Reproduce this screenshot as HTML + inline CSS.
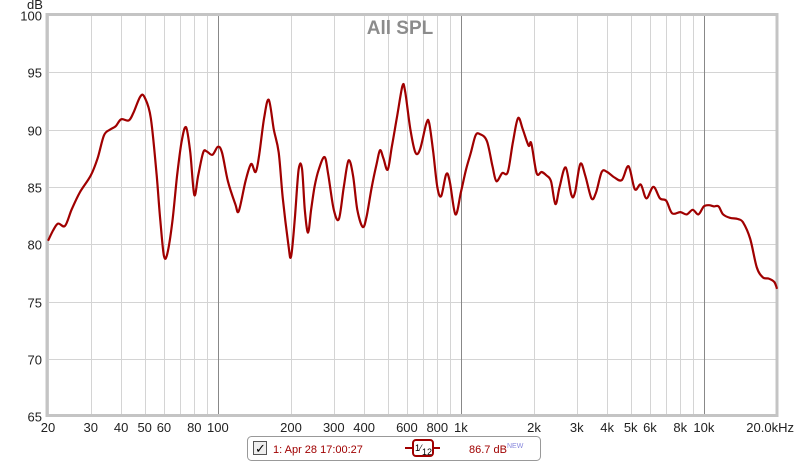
<!DOCTYPE html>
<html><head><meta charset="utf-8"><style>
body{margin:0;background:#fff;width:800px;height:464px;overflow:hidden;font-family:"Liberation Sans",sans-serif}
svg{display:block}
</style></head><body>
<svg id="chart" width="800" height="464">
<rect x="0" y="0" width="800" height="464" fill="#fff"/>
<g id="grid"></g>
<g id="labels"></g>
<rect x="47" y="14.5" width="730" height="401" fill="none" stroke="#c4c4c4" stroke-width="3"/>
<path id="curve" fill="none" stroke="#a00000" stroke-width="2.2"/>
<text x="400" y="34" text-anchor="middle" font-size="19" font-weight="bold" fill="#8c8c8c">All SPL</text>
<text x="27" y="9" font-size="13" fill="#222">dB</text>
<g>
<rect x="247.5" y="436.5" width="293" height="24" rx="4" fill="#fff" stroke="#999"/>
<rect x="253.5" y="441.5" width="13" height="13" fill="#eee" stroke="#555"/>
<text x="255" y="453" font-size="13" fill="#000">✓</text>
<text x="273" y="453" font-size="11" fill="#a00000">1: Apr 28 17:00:27</text>
<line x1="405" y1="448" x2="440" y2="448" stroke="#a00000" stroke-width="2"/>
<rect x="413" y="440" width="20" height="16" rx="3" fill="#fff" stroke="#a00000" stroke-width="2"/>
<text x="415" y="451" font-size="9" fill="#000">1⁄</text><text x="422" y="455" font-size="9" fill="#000">12</text>
<text x="469" y="453" font-size="11" fill="#a00000">86.7 dB</text>
<text x="507" y="448" font-size="7" fill="#8888dd">NEW</text>
</g>
</svg>
<script>
const freqs=[20,21,22,23.5,25,27,30,32,34,36,38,40,43,45,48,50,53,56,58,60,62,65,68,71,74,77,80,83,87,90,95,100,104,110,118,122,130,137,143,148,155,162,170,178,185,195,200,207,215,222,228,235,242,250,260,275,285,300,315,330,345,360,375,395,410,430,450,465,480,500,520,545,575,590,620,650,680,720,740,770,800,830,870,900,950,1000,1050,1100,1150,1200,1280,1350,1400,1480,1560,1640,1720,1800,1900,1950,2050,2150,2250,2350,2450,2550,2700,2850,2950,3100,3250,3450,3600,3800,4000,4300,4600,4900,5200,5500,5800,6200,6600,7000,7400,8000,8500,9000,9500,10000,10500,11000,11500,12000,12800,13800,14500,15500,16500,17500,18500,19500,20000];
const spl=[80.3,81.2,81.8,81.6,83,84.5,86,87.5,89.5,90,90.3,90.9,90.8,91.5,92.9,92.8,91,86,82,79,79.2,82,86,89,90.2,88,84.3,86,88,88.1,87.8,88.5,88,85.5,83.5,82.9,85.5,87,86.3,87.8,91,92.6,90,88,84,80,78.9,82,86.5,86.6,83,81,83,85,86.5,87.6,86,83,82.2,85,87.3,86,83,81.5,82.5,85,87,88.2,87.5,86.5,88.5,91,93.8,93.3,90,88,88.3,90.5,90.6,88,85,84.2,86.1,85.5,82.6,84.5,86.5,88,89.5,89.6,89,86.8,85.5,86.2,86.3,89,91,90,88.6,88.8,86.2,86.3,86,85.5,83.5,85,86.7,84.3,84.5,87,86,84,84.5,86.3,86.3,85.8,85.6,86.8,84.8,85.2,84,85,84,83.8,82.7,82.8,82.6,83,82.6,83.3,83.4,83.3,83.3,82.6,82.3,82.2,81.9,80.5,78,77.1,77,76.7,76.1];
const yTicks=[100,95,90,85,80,75,70,65];
const xTickLabels=[[20,"20"],[30,"30"],[40,"40"],[50,"50"],[60,"60"],[80,"80"],[100,"100"],[200,"200"],[300,"300"],[400,"400"],[600,"600"],[800,"800"],[1000,"1k"],[2000,"2k"],[3000,"3k"],[4000,"4k"],[5000,"5k"],[6000,"6k"],[8000,"8k"],[10000,"10k"],[20000,"20.0kHz"]];
const X=f=>48+(Math.log10(f)-Math.log10(20))*243;
const Y=d=>15+(100-d)*11.46;
const NS="http://www.w3.org/2000/svg";
const grid=document.getElementById('grid'),labels=document.getElementById('labels');
function ln(x1,y1,x2,y2,c){const l=document.createElementNS(NS,'line');l.setAttribute('x1',x1);l.setAttribute('y1',y1);l.setAttribute('x2',x2);l.setAttribute('y2',y2);l.setAttribute('stroke',c);l.setAttribute('stroke-width',1);grid.appendChild(l);return l;}
yTicks.forEach(v=>{const y=Math.round(Y(v))+0.5;const l=ln(48,y,777,y,'#d4d4d4');


const t=document.createElementNS(NS,'text');t.setAttribute('x',42);t.setAttribute('y',y+5);t.setAttribute('text-anchor','end');t.setAttribute('font-size',13);t.setAttribute('fill','#222');t.textContent=v;


labels.appendChild(t);});
[10,100,1000,10000].forEach(dec=>{for(let k=1;k<10;k++){const f=dec*k;if(f<20||f>20000)continue;const x=Math.round(X(f))+0.5;const l=ln(x,15,x,415,k==1?'#888':'#d4d4d4');

}});
xTickLabels.forEach(([f,s])=>{const t=document.createElementNS(NS,'text');let x=X(f);
if(f==20000){t.setAttribute('x',794);t.setAttribute('text-anchor','end');}else{t.setAttribute('x',x);t.setAttribute('text-anchor','middle');}
t.setAttribute('y',432);t.setAttribute('font-size',13);t.setAttribute('fill','#222');t.textContent=s;


labels.appendChild(t);});
const pts=freqs.map((f,i)=>[X(f),Y(spl[i])]);
let d='M'+pts[0][0].toFixed(1)+','+pts[0][1].toFixed(1);
for(let i=0;i<pts.length-1;i++){const p0=pts[Math.max(0,i-1)],p1=pts[i],p2=pts[i+1],p3=pts[Math.min(pts.length-1,i+2)];
const c1=[p1[0]+(p2[0]-p0[0])/6,p1[1]+(p2[1]-p0[1])/6],c2=[p2[0]-(p3[0]-p1[0])/6,p2[1]-(p3[1]-p1[1])/6];
d+=`C${c1[0].toFixed(1)},${c1[1].toFixed(1)} ${c2[0].toFixed(1)},${c2[1].toFixed(1)} ${p2[0].toFixed(1)},${p2[1].toFixed(1)}`;}
document.getElementById('curve').setAttribute('d',d);
</script>
</body></html>
